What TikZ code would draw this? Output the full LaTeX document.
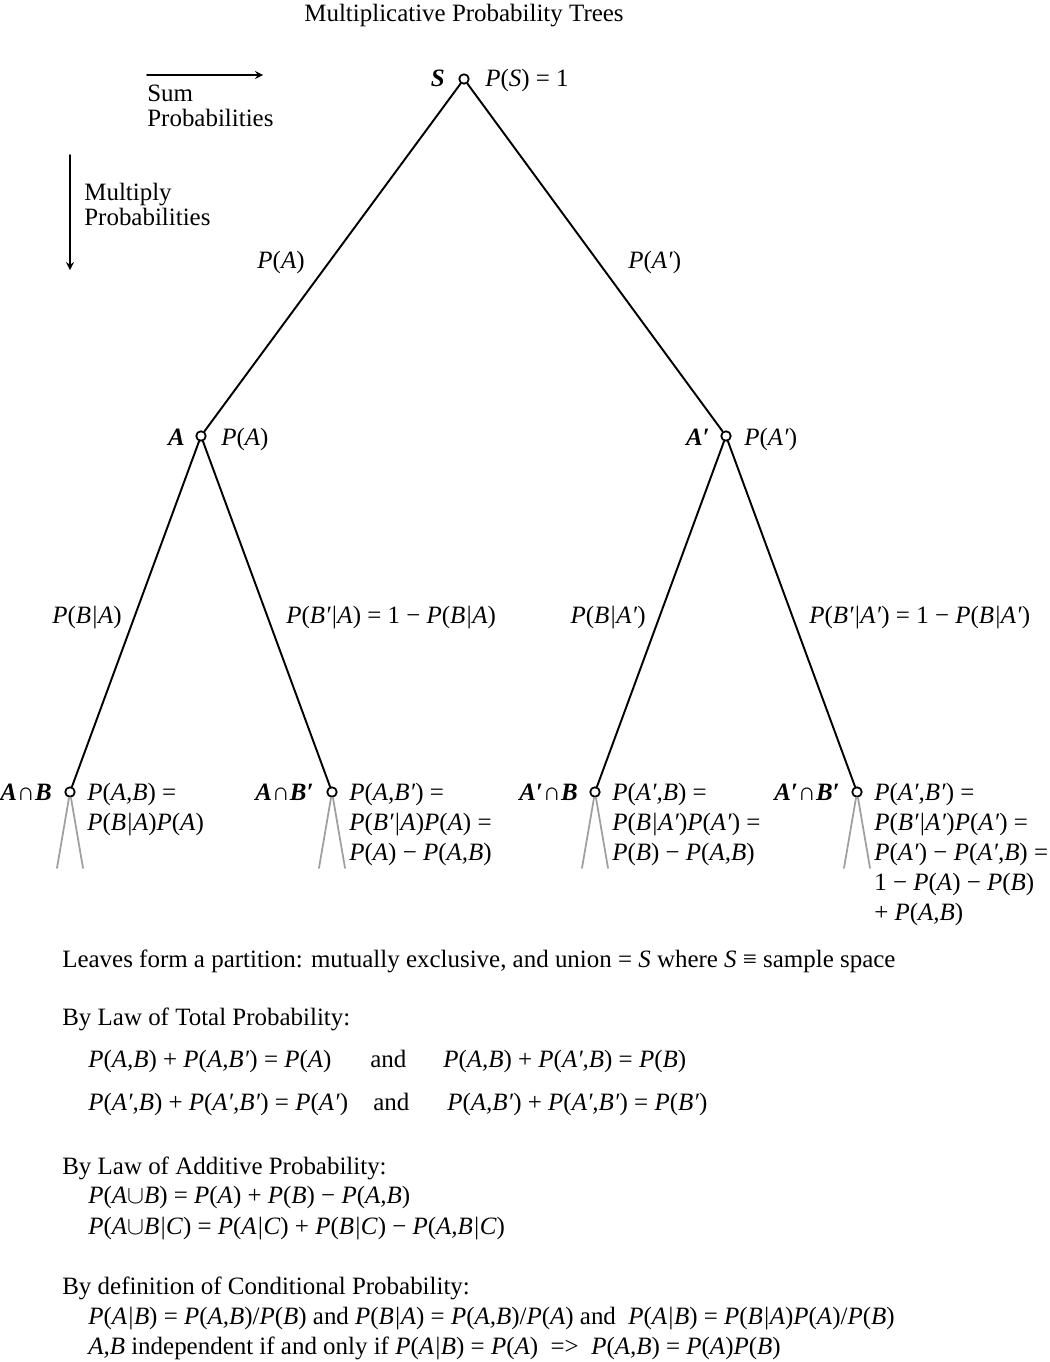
\documentclass[tikz,border=0pt]{standalone}
\usepackage{fontspec}
\setmainfont{Liberation Serif}
\usetikzlibrary{positioning}
\newcommand\pr[1]{\textit{P}(\textit{#1})}
\newcommand\ev[1]{\textbf{\textit{#1}}}
\tikzset{
	dot/.style={circle, draw, line width=1pt, fill=white, inner sep=0pt, minimum size=.19cm},
	branch/.style={line width=1.1pt},
	stub/.style={gray!75, line width=1pt},
	txt/.style={anchor=base west, inner sep=0pt},
	rtxt/.style={anchor=base east, inner sep=0pt},
	leaf/.style={anchor=north west, inner sep=0pt, align=left, font=\fontsize{14.2}{17}\selectfont},
}
\begin{document}
\begin{tikzpicture}[x=.02cm, y=-.02cm, font=\fontsize{14.2}{14.2}\selectfont, line join=round, line cap=round, >=stealth]
	\useasboundingbox (0,0) rectangle (1049,1362);
	\node[anchor=base, inner sep=0pt] (title) at (464,22) {Multiplicative Probability Trees};
	% legend
	\coordinate (sum0) at (147,75); \coordinate (sum1) at (263,75);
	\coordinate (mul0) at (70,155); \coordinate (mul1) at (70,270);
	\draw[->, line width=1pt] (sum0) -- (sum1);
	\draw[->, line width=1pt] (mul0) -- (mul1);
	\node[txt] (sum) at (147,102) {Sum};
	\node[txt] (sump) at (147,127) {Probabilities};
	\node[txt] (mul) at (84,200) {Multiply};
	\node[txt] (mulp) at (84,225) {Probabilities};
	% tree
	\node[dot] (S) at (464,79) {};
	\node[dot] (A) at (201,436) {};
	\node[dot] (Ac) at (726,436) {};
	\node[dot] (AB) at (70,792) {};
	\node[dot] (ABc) at (332,792) {};
	\node[dot] (AcB) at (595,792) {};
	\node[dot] (AcBc) at (857,792) {};
	\draw[branch] (S) -- (A) (S) -- (Ac);
	\draw[branch] (A) -- (AB) (A) -- (ABc);
	\draw[branch] (Ac) -- (AcB) (Ac) -- (AcBc);
	\foreach \n in {AB,ABc,AcB,AcBc}
		\draw[stub] (\n) -- ++(-13,76) (\n) -- ++(13,76);
	% branch labels
	\node[rtxt] (pA) at (305,268) {\pr{A}};
	\node[txt] (pAc) at (628,268) {\pr{A′}};
	\node[rtxt] (pBA) at (122,623) {\pr{B|A}};
	\node[txt] (pBcA) at (286,623) {\pr{B′|A} = 1 − \pr{B|A}};
	\node[rtxt] (pBAc) at (646,623) {\pr{B|A′}};
	\node[txt] (pBcAc) at (809,623) {\pr{B′|A′} = 1 − \pr{B|A′}};
	% node labels
	\node[rtxt] (nS) at (445,87) {\ev{S}};
	\node[txt] (vS) at (485,87) {\pr{S} = 1};
	\node[rtxt] (nA) at (185,445) {\ev{A}};
	\node[txt] (vA) at (221,445) {\pr{A}};
	\node[rtxt] (nAc) at (710,445) {\ev{A′}};
	\node[txt] (vAc) at (744,445) {\pr{A′}};
	\node[rtxt] (nAB) at (52,800) {\ev{A}∩\ev{B}};
	\node[rtxt] (nABc) at (314,800) {\ev{A}∩\ev{B′}};
	\node[rtxt] (nAcB) at (578,800) {\ev{A′}∩\ev{B}};
	\node[rtxt] (nAcBc) at (840,800) {\ev{A′}∩\ev{B′}};
	\node[leaf] (vAB) at (87,783) {\pr{A,B} =\\\pr{B|A}\pr{A}};
	\node[leaf] (vABc) at (349,783) {\pr{A,B′} =\\\pr{B′|A}\pr{A} =\\\pr{A} − \pr{A,B}};
	\node[leaf] (vAcB) at (612,783) {\pr{A′,B} =\\\pr{B|A′}\pr{A′} =\\\pr{B} − \pr{A,B}};
	\node[leaf] (vAcBc) at (874,783) {\pr{A′,B′} =\\\pr{B′|A′}\pr{A′} =\\\pr{A′} − \pr{A′,B} =\\1 − \pr{A} − \pr{B}\\+ \pr{A,B}};
	% notes
	\node[txt] (part) at (62,967) {Leaves form a partition: mutually exclusive, and union = \textit{S} where \textit{S} ≡ sample space};
	\node[txt] (tot) at (62,1025) {By Law of Total Probability:};
	\node[txt] (tot1) at (88,1067) {\pr{A,B} + \pr{A,B′} = \pr{A}};
	\node[txt] (and1) at (370,1067) {and};
	\node[txt] (tot2) at (443,1067) {\pr{A,B} + \pr{A′,B} = \pr{B}};
	\node[txt] (tot3) at (88,1110) {\pr{A′,B} + \pr{A′,B′} = \pr{A′}};
	\node[txt] (and2) at (373,1110) {and};
	\node[txt] (tot4) at (447,1110) {\pr{A,B′} + \pr{A′,B′} = \pr{B′}};
	\node[txt] (add) at (62,1174) {By Law of Additive Probability:};
	\node[txt] (add1) at (88,1203) {\textit{P}(\textit{A}$\cup$\textit{B}) = \pr{A} + \pr{B} − \pr{A,B}};
	\node[txt] (add2) at (88,1234) {\textit{P}(\textit{A}$\cup$\textit{B|C}) = \pr{A|C} + \pr{B|C} − \pr{A,B|C}};
	\node[txt] (cond) at (62,1294) {By definition of Conditional Probability:};
	\node[txt] (cond1) at (88,1324) {\pr{A|B} = \pr{A,B}/\pr{B} and \pr{B|A} = \pr{A,B}/\pr{A} and\ \ \pr{A|B} = \pr{B|A}\pr{A}/\pr{B}};
	\node[txt] (cond2) at (88,1354) {\textit{A,B} independent if and only if \pr{A|B} = \pr{A}\ \ =>\ \ \pr{A,B} = \pr{A}\pr{B}};
\end{tikzpicture}
\end{document}
